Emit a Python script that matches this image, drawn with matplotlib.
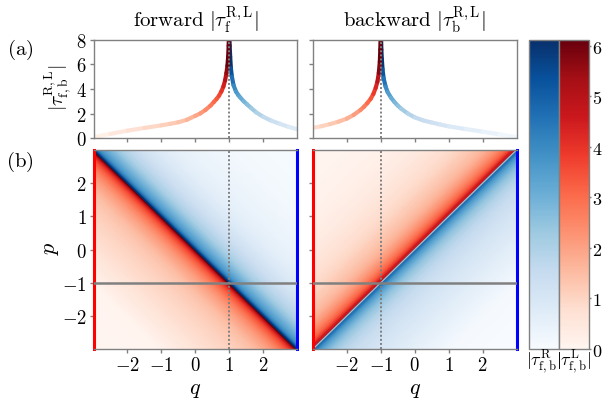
import numpy as np
import matplotlib
matplotlib.use('Agg')
import matplotlib.pyplot as plt
from matplotlib.collections import LineCollection
from matplotlib.colors import Normalize
from matplotlib.cm import ScalarMappable

plt.rcParams['mathtext.fontset'] = 'cm'
plt.rcParams['font.family'] = 'serif'
plt.rcParams['font.serif'] = ['DejaVu Serif']

# ---------------- data ----------------
# forward: |tau| depends on s = q + p ; panel (a) is the slice p = -1
fwd_s_L = [-6.1, -5.0, -4.05, -3.5, -3.0, -2.5, -2.0, -1.75, -1.5, -1.25, -1.0, -0.85,
           -0.7, -0.55, -0.45, -0.37, -0.3, -0.23, -0.17, -0.12, -0.08, -0.05, -0.03,
           -0.015, -0.005, 0.0]
fwd_tau_L = [0.0, 0.02, 0.07, 0.36, 0.62, 0.84, 1.05, 1.17, 1.3, 1.5, 1.82, 2.02,
             2.3, 2.65, 2.95, 3.2, 3.45, 3.8, 4.2, 4.7, 5.3, 5.9, 6.6,
             7.5, 8.5, 9.5]
fwd_s_R = [0.0, 0.005, 0.015, 0.03, 0.05, 0.08, 0.13, 0.2, 0.27, 0.33, 0.43, 0.53,
           0.65, 0.8, 1.0, 1.25, 1.5, 1.75, 2.05, 2.5, 3.0, 4.0, 5.0, 6.1]
fwd_tau_R = [9.5, 8.5, 7.5, 6.6, 5.7, 5.0, 4.3, 3.8, 3.5, 3.3, 3.0, 2.75,
             2.45, 2.1, 1.75, 1.42, 1.17, 0.93, 0.7, 0.5, 0.35, 0.15, 0.05, 0.0]

# backward: |tau| depends on s = q - p ; panel (a) is the slice p = -1
bwd_s_L = [-6.1, -5.0, -4.0, -3.0, -2.5, -2.05, -1.75, -1.5, -1.25, -1.0, -0.8, -0.6,
           -0.5, -0.4, -0.3, -0.22, -0.15, -0.1, -0.06, -0.03, -0.015, -0.005, 0.0]
bwd_tau_L = [0.0, 0.05, 0.15, 0.4, 0.62, 0.82, 0.98, 1.15, 1.35, 1.6, 1.9, 2.3,
             2.55, 2.85, 3.2, 3.6, 4.1, 4.6, 5.3, 6.2, 7.2, 8.5, 9.5]
bwd_s_R = [0.0, 0.005, 0.015, 0.03, 0.05, 0.08, 0.14, 0.2, 0.3, 0.4, 0.5, 0.6,
           0.8, 1.0, 1.25, 1.5, 1.75, 2.0, 2.5, 3.0, 3.5, 4.05, 5.0, 6.1]
bwd_tau_R = [9.5, 8.5, 7.2, 6.4, 5.6, 4.9, 4.2, 3.75, 3.3, 2.95, 2.65, 2.4,
             2.0, 1.7, 1.45, 1.28, 1.12, 0.97, 0.75, 0.54, 0.32, 0.08, 0.02, 0.0]

p_slice = -1.0
q_ticks = [-2, -1, 0, 1, 2]
q_ticklabels = [r'$-2$', r'$-1$', r'$0$', r'$1$', r'$2$']
p_ticks = [-2, -1, 0, 1, 2]
p_ticklabels = [r'$-2$', r'$-1$', r'$0$', r'$1$', r'$2$']
tau_ticks = [0, 2, 4, 6, 8]
tau_ticklabels = [r'$0$', r'$2$', r'$4$', r'$6$', r'$8$']
cb_ticks = [0, 1, 2, 3, 4, 5, 6]
cb_ticklabels = [r'$%d$' % t for t in cb_ticks]
vmax = 6.12

# ---------------- figure ----------------
W, H = 604, 402
fig = plt.figure(figsize=(W / 100, H / 100), dpi=100)
norm = Normalize(0, vmax)
GRAY = '0.5'
FS_TICK = 13.5
DOT = (0, (1.0, 1.1))


def px_axes(x0, y0, x1, y1):
    return fig.add_axes([x0 / W, 1 - y1 / H, (x1 - x0) / W, (y1 - y0) / H])


axA1 = px_axes(93.5, 40.7, 297.0, 139.3)
axA2 = px_axes(313.0, 40.7, 516.5, 139.3)
axB1 = px_axes(93.5, 151.0, 297.0, 350.0)
axB2 = px_axes(313.0, 151.0, 516.5, 350.0)
cax1 = px_axes(529.0, 40.7, 559.3, 350.0)
cax2 = px_axes(559.3, 40.7, 589.3, 350.0)


def style(ax):
    for sp in ax.spines.values():
        sp.set_color(GRAY)
        sp.set_linewidth(1.0)
    ax.tick_params(direction='out', length=3.0, width=1.0, color=GRAY,
                   labelsize=FS_TICK, pad=2.0)


def colored_line(ax, x, y, cmap):
    x = np.asarray(x, float)
    y = np.asarray(y, float)
    pts = np.column_stack([x, y])
    segs = np.stack([pts[:-1], pts[1:]], axis=1)
    lc = LineCollection(segs, cmap=cmap, norm=norm, linewidths=3.0,
                        capstyle='round', joinstyle='round', zorder=2)
    lc.set_array(0.5 * (y[:-1] + y[1:]))
    ax.add_collection(lc)


def diag_mesh(ax, s, vals, cmap, kind, clip=None):
    s = np.asarray(s, float)
    vals = np.asarray(vals, float)
    if clip is not None:
        vals = np.minimum(vals, clip)
    v = np.array([-6.5, 6.5])
    S, V = np.meshgrid(s, v, indexing='ij')
    if kind == 'fwd':
        Q, P = (S + V) / 2, (S - V) / 2
    else:
        Q, P = (V + S) / 2, (V - S) / 2
    C = np.repeat(vals[:, None], 2, axis=1)
    ax.pcolormesh(Q, P, C, shading='gouraud', cmap=cmap, norm=norm,
                  rasterized=True, zorder=1)


# ---- (a) slices ----
for ax, sL, tL, sR, tR, kind in [
        (axA1, fwd_s_L, fwd_tau_L, fwd_s_R, fwd_tau_R, 'fwd'),
        (axA2, bwd_s_L, bwd_tau_L, bwd_s_R, bwd_tau_R, 'bwd')]:
    style(ax)
    if kind == 'fwd':
        qL = np.asarray(sL) - p_slice
        qR = np.asarray(sR) - p_slice
        q0 = -p_slice
    else:
        qL = np.asarray(sL) + p_slice
        qR = np.asarray(sR) + p_slice
        q0 = p_slice
    colored_line(ax, qR, tR, 'Blues')
    colored_line(ax, qL, tL, 'Reds')
    ax.axvline(q0, color=GRAY, lw=1.4, ls=DOT, zorder=3)
    ax.set_xlim(-3, 3)
    ax.set_ylim(0, 8)
    ax.set_xticks(q_ticks)
    ax.set_xticklabels([])
    ax.set_yticks(tau_ticks)
    if ax is axA1:
        ax.set_yticklabels(tau_ticklabels)
    else:
        ax.set_yticklabels([])

# ---- (b) maps ----
for ax, sL, tL, sR, tR, kind in [
        (axB1, fwd_s_L, fwd_tau_L, fwd_s_R, fwd_tau_R, 'fwd'),
        (axB2, bwd_s_L, bwd_tau_L, bwd_s_R, bwd_tau_R, 'bwd')]:
    style(ax)
    clip = None if kind == 'fwd' else 4.6
    diag_mesh(ax, sL, tL, 'Reds', kind, clip)
    diag_mesh(ax, sR, tR, 'Blues', kind, clip)
    if kind == 'bwd':
        ax.axline((0, 0), slope=1, color='0.75', lw=0.8, zorder=2)
        q0 = p_slice
    else:
        q0 = -p_slice
    ax.axhline(p_slice, color=GRAY, lw=1.8, zorder=3)
    ax.axvline(q0, color=GRAY, lw=1.4, ls=DOT, zorder=3)
    ax.set_xlim(-3, 3)
    ax.set_ylim(-3, 3)
    ax.spines['left'].set_color('red')
    ax.spines['left'].set_linewidth(2.2)
    ax.spines['right'].set_color('blue')
    ax.spines['right'].set_linewidth(2.2)
    ax.set_xticks(q_ticks)
    ax.set_xticklabels(q_ticklabels)
    ax.set_yticks(p_ticks)
    if ax is axB1:
        ax.set_yticklabels(p_ticklabels)
    else:
        ax.set_yticklabels([])

# ---- colorbars ----
cb1 = fig.colorbar(ScalarMappable(norm=norm, cmap='Blues'), cax=cax1)
cb1.set_ticks([])
cb2 = fig.colorbar(ScalarMappable(norm=norm, cmap='Reds'), cax=cax2)
cb2.set_ticks(cb_ticks)
cb2.set_ticklabels(cb_ticklabels)
for cb in (cb1, cb2):
    cb.outline.set_edgecolor(GRAY)
    cb.outline.set_linewidth(1.0)
    cb.ax.tick_params(direction='out', length=1.5, width=1.0, color=GRAY,
                      labelsize=13, pad=0.8)
    cb.ax.minorticks_off()

# ---- texts ----
fig.text(195.3 / W, 1 - 20 / H, r'$\mathrm{forward}\ |\tau_{\rm f}^{\rm R,L}|$',
         ha='center', va='center', fontsize=15)
fig.text(414.7 / W, 1 - 20 / H, r'$\mathrm{backward}\ |\tau_{\rm b}^{\rm R,L}|$',
         ha='center', va='center', fontsize=15)
fig.text(20 / W, 1 - 50 / H, r'$\mathrm{(a)}$', ha='center', va='center', fontsize=15)
fig.text(20 / W, 1 - 162 / H, r'$\mathrm{(b)}$', ha='center', va='center', fontsize=15)
fig.text(58 / W, 1 - 88 / H, r'$|\tau^{\rm R,L}_{\rm f,b}|$', ha='center', va='center',
         rotation=90, fontsize=14)
fig.text(50 / W, 1 - 248 / H, r'$p$', ha='center', va='center', rotation=90, fontsize=16)
fig.text(195.3 / W, 1 - 389 / H, r'$q$', ha='center', va='center', fontsize=16)
fig.text(414.7 / W, 1 - 389 / H, r'$q$', ha='center', va='center', fontsize=16)
fig.text(543.5 / W, 1 - 362 / H, r'$|\tau^{\rm R}_{\rm f,b}|$', ha='center', va='center',
         fontsize=13)
fig.text(573.5 / W, 1 - 362 / H, r'$|\tau^{\rm L}_{\rm f,b}|$', ha='center', va='center',
         fontsize=13)

fig.savefig('out.png', dpi=100)
